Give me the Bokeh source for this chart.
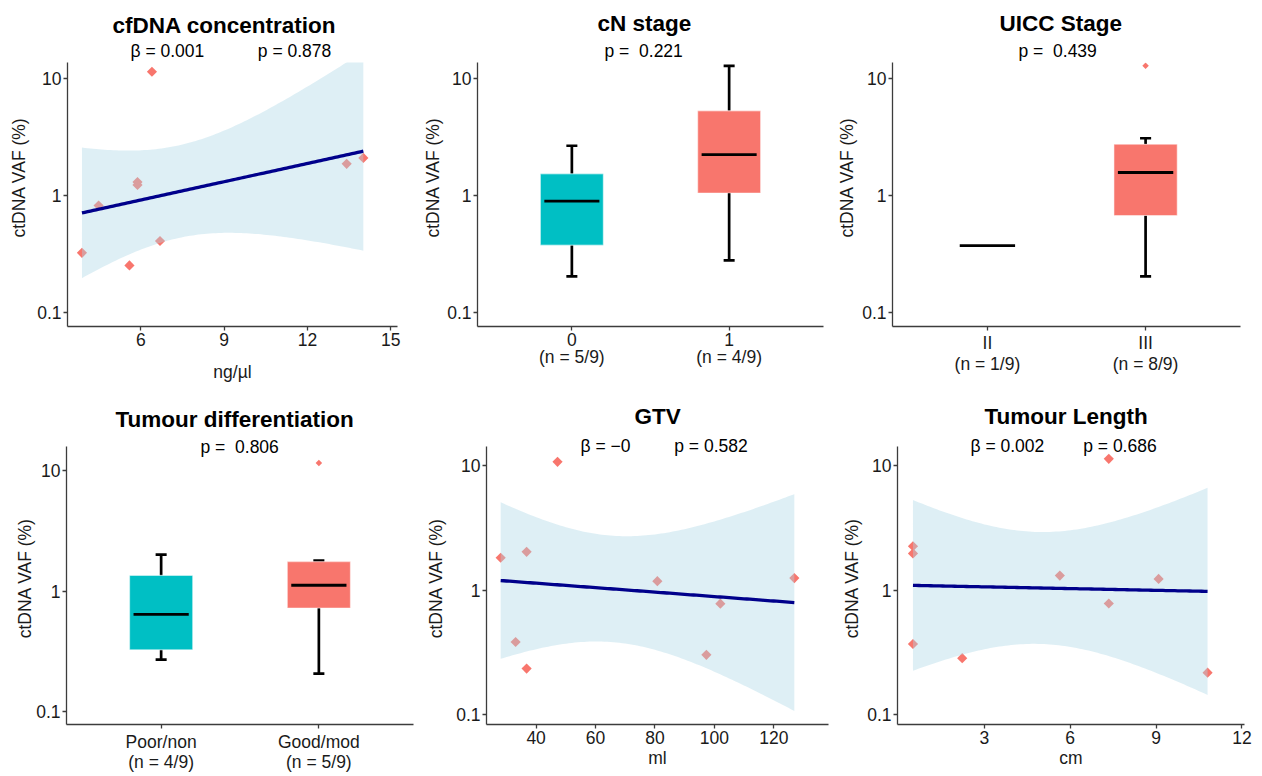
import numpy as np
from bokeh.plotting import figure
from bokeh.layouts import row, column
from bokeh.models import Range1d, FixedTicker, NumeralTickFormatter, Title, LinearAxis
from bokeh.embed import file_html
from bokeh.resources import INLINE

FONT = "Liberation Sans"
T_975_DF7 = 2.3646  # t quantile for a 95% CI with n - 2 = 7 degrees of freedom
NB = "\u00a0"

# ---------------- data ----------------
cfdna_x = [3.88, 4.48, 5.59, 5.88, 5.88, 6.40, 6.69, 13.41, 14.01]
cfdna_vaf = [0.325, 0.82, 0.254, 1.30, 1.23, 11.3, 0.41, 1.86, 2.09]

gtv_x = [28.07, 36.8, 47.2, 33.1, 36.8, 80.8, 102.0, 97.3, 126.9]
gtv_vaf = [1.82, 2.03, 10.7, 0.384, 0.235, 1.18, 0.78, 0.303, 1.25]

length_x = [0.51, 0.51, 0.51, 2.23, 5.64, 7.35, 7.35, 9.09, 10.80]
length_vaf = [2.25, 1.97, 0.370, 0.285, 1.31, 11.3, 0.782, 1.23, 0.218]

# box statistics: lower whisker, q1, median, q3, upper whisker
cn_groups = ["0", "1"]
cn_n = ["(n = 5/9)", "(n = 4/9)"]
cn_stats = [[0.205, 0.378, 0.894, 1.53, 2.65], [0.28, 1.05, 2.23, 5.26, 12.7]]
cn_outliers = [[], []]

uicc_groups = ["II", "III"]
uicc_n = ["(n = 1/9)", "(n = 8/9)"]
uicc_stats = [[0.375, 0.375, 0.375, 0.375, 0.375], [0.205, 0.676, 1.57, 2.73, 3.07]]
uicc_outliers = [[], [12.7]]

diff_groups = ["Poor/non", "Good/mod"]
diff_n = ["(n = 4/9)", "(n = 5/9)"]
diff_stats = [[0.271, 0.327, 0.643, 1.35, 2.01], [0.208, 0.724, 1.12, 1.76, 1.79]]
diff_outliers = [[], [11.5]]

titles = {"cfdna": "cfDNA concentration", "cn": "cN stage", "uicc": "UICC Stage",
          "diff": "Tumour differentiation", "gtv": "GTV", "length": "Tumour Length"}
beta_texts = {"cfdna": "β = 0.001", "gtv": "β = −0", "length": "β = 0.002"}
p_texts = {"cfdna": "p = 0.878", "cn": "p = " + NB + "0.221", "uicc": "p = " + NB + "0.439",
           "diff": "p = " + NB + "0.806", "gtv": "p = 0.582", "length": "p = 0.686"}
x_titles = {"cfdna": "ng/µl", "gtv": "ml", "length": "cm"}
y_title = "ctDNA VAF (%)"

GROUP_COLORS = ["#00BFC4", "#F8766D"]
POINT_COLOR = "#F8766D"

# ---------------- geometry (page pixels) ----------------
COLS = {0: [(0, 420), (420, 410), (830, 430)],
        1: [(0, 420), (420, 415), (835, 425)]}
ROWS = [(0, 387), (387, 387)]

geo = {
    "cfdna": dict(col=0, row=0, L=66.7, R=396.7, T=62, B=326, xr=(3.36, 15.24), ylog=(-1.115, 1.132),
                  ylab_st=5, ylab_pad=7, main_off=45, sub_off=63, gap=11, sub_so=4, main_so=-2),
    "cn": dict(col=1, row=0, L=475.7, R=823.3, T=62, B=326, xr=(0.4, 2.6), ylog=(-1.115, 1.132),
               ylab_st=1, ylab_pad=7, main_off=120, sub_off=127, gap=0, sub_so=4, main_so=2),
    "uicc": dict(col=2, row=0, L=892.3, R=1240, T=62, B=326, xr=(0.4, 2.6), ylog=(-1.115, 1.132),
                 ylab_st=2, ylab_pad=7, main_off=107, sub_off=126, gap=0, sub_so=4, main_so=2),
    "diff": dict(col=0, row=1, L=65.7, R=413.3, T=445, B=727, xr=(0.4, 2.6), ylog=(-1.104, 1.198),
                 ylab_st=-2, ylab_pad=3, main_off=49, sub_off=134, gap=0, sub_so=-20, main_so=25),
    "gtv": dict(col=1, row=1, L=485.7, R=828.3, T=442.7, B=726, xr=(23.3, 138.4), ylog=(-1.077, 1.152),
                ylab_st=7, ylab_pad=3, main_off=148, sub_off=94, gap=9, sub_so=-18, main_so=28),
    "length": dict(col=2, row=1, L=897.3, R=1244.3, T=442.7, B=726, xr=(-0.03, 12.09), ylog=(-1.077, 1.152),
                   ylab_st=2, ylab_pad=3, main_off=87, sub_off=73, gap=8, sub_so=-18, main_so=28),
}


def style_axis(ax):
    ax.axis_line_color = "#3c3c3c"
    ax.axis_line_width = 1.3
    ax.major_tick_line_color = "#3c3c3c"
    ax.major_tick_line_width = 1.3
    ax.major_tick_out = 4
    ax.major_tick_in = 0
    ax.minor_tick_line_color = None
    ax.major_label_text_font = FONT
    ax.major_label_text_font_size = "17.5px"
    ax.major_label_text_color = "#1a1a1a"
    ax.axis_label_text_font = FONT
    ax.axis_label_text_font_size = "17.5px"
    ax.axis_label_text_font_style = "normal"
    ax.axis_label_text_color = "#1a1a1a"
    ax.major_label_standoff = 2


def make_fig(key):
    g = geo[key]
    cx, w = COLS[g["row"]][g["col"]]
    ry, h = ROWS[g["row"]]
    left = int(round(g["L"] - cx))
    right = w - int(round(g["R"] - cx))
    top = int(round(g["T"] - ry))
    bottom = h - int(round(g["B"] - ry))
    p = figure(width=w, height=h, x_range=Range1d(*g["xr"]),
               y_range=Range1d(10 ** g["ylog"][0], 10 ** g["ylog"][1]),
               y_axis_type="log", output_backend="svg", toolbar_location=None,
               min_border_left=left, min_border_right=right,
               min_border_top=top, min_border_bottom=bottom, title=None)
    p.xgrid.visible = False
    p.ygrid.visible = False
    p.outline_line_color = None
    p.background_fill_color = "white"
    for ax in p.axis:
        style_axis(ax)
    p.yaxis.ticker = FixedTicker(ticks=[0.1, 1, 10])
    p.yaxis.formatter = NumeralTickFormatter(format="0.[0]")
    # leading no-break spaces lift the rotated label above the frame centre, as in the original
    p.yaxis.axis_label = NB * g["ylab_pad"] + y_title
    p.yaxis.axis_label_standoff = g["ylab_st"]

    # titles: the sub-title line first (closest to the frame), then the main title
    sub = p_texts[key]
    if key in beta_texts:
        sub = beta_texts[key] + NB * g["gap"] + p_texts[key]
    p.add_layout(Title(text=sub, align="left", offset=g["sub_off"], standoff=g["sub_so"],
                       text_font=FONT, text_font_size="17.5px", text_font_style="normal",
                       text_color="black"), "above")
    p.add_layout(Title(text=titles[key], align="left", offset=g["main_off"], standoff=g["main_so"],
                       text_font=FONT, text_font_size="22.5px", text_font_style="bold",
                       text_color="black"), "above")
    return p


def lm_band(x, y):
    x = np.asarray(x, float)
    ly = np.log10(np.asarray(y, float))
    n = len(x)
    xb = x.mean()
    sxx = ((x - xb) ** 2).sum()
    b = ((x - xb) * (ly - ly.mean())).sum() / sxx
    a = ly.mean() - b * xb
    s = np.sqrt(((ly - (a + b * x)) ** 2).sum() / (n - 2))
    xs = np.linspace(x.min(), x.max(), 100)
    fit = a + b * xs
    half = T_975_DF7 * s * np.sqrt(1 / n + (xs - xb) ** 2 / sxx)
    return xs, 10 ** fit, 10 ** (fit - half), 10 ** (fit + half)


def scatter_panel(key, xs_data, ys_data, ticks, xlab_st):
    p = make_fig(key)
    p.scatter(xs_data, ys_data, marker="square", angle=np.pi / 4, size=7.2,
              fill_color=POINT_COLOR, line_color=None)
    xs, fit, lo, hi = lm_band(xs_data, ys_data)
    p.varea(x=xs, y1=lo, y2=hi, fill_color="#ADD8E6", fill_alpha=0.4)
    p.line(xs, fit, line_color="#00008B", line_width=3.3)
    p.xaxis.ticker = FixedTicker(ticks=ticks)
    p.xaxis.axis_label = x_titles[key]
    p.xaxis.axis_label_standoff = xlab_st
    return p


def box_panel(key, groups, ns, stats, outliers, tick_st, n_st):
    p = make_fig(key)
    for i, (st, outs) in enumerate(zip(stats, outliers)):
        xc = i + 1
        lw, q1, med, q3, uw = st
        col = GROUP_COLORS[i]
        if uw > q3:
            p.segment(x0=[xc], y0=[q3], x1=[xc], y1=[uw], line_color="black", line_width=2.7)
        if lw < q1:
            p.segment(x0=[xc], y0=[lw], x1=[xc], y1=[q1], line_color="black", line_width=2.7)
        if q3 > q1:
            p.segment(x0=[xc - 0.035, xc - 0.035], y0=[uw, lw], x1=[xc + 0.035, xc + 0.035],
                      y1=[uw, lw], line_color="black", line_width=2.7)
            p.quad(left=[xc - 0.2], right=[xc + 0.2], bottom=[q1], top=[q3],
                   fill_color=col, line_color="white", line_alpha=0.45, line_width=1.2)
        p.segment(x0=[xc - 0.175], y0=[med], x1=[xc + 0.175], y1=[med],
                  line_color="black", line_width=2.8)
        if outs:
            p.scatter([xc] * len(outs), outs, marker="square", angle=np.pi / 4, size=4.6,
                      fill_color=col, line_color=None)
    p.xaxis.ticker = FixedTicker(ticks=[1, 2])
    p.xaxis.major_label_overrides = {i + 1: grp for i, grp in enumerate(groups)}
    p.xaxis.major_label_standoff = tick_st
    # second line of the category labels: the group sizes
    ax2 = LinearAxis(ticker=FixedTicker(ticks=[1, 2]),
                     major_label_overrides={i + 1: n for i, n in enumerate(ns)})
    style_axis(ax2)
    ax2.axis_line_color = None
    ax2.major_tick_line_color = None
    ax2.major_tick_out = 0
    ax2.major_label_standoff = n_st
    p.add_layout(ax2, "below")
    return p


p1 = scatter_panel("cfdna", cfdna_x, cfdna_vaf, [6, 9, 12, 15], 13)
p2 = box_panel("cn", cn_groups, cn_n, cn_stats, cn_outliers, 2, -2)
p3 = box_panel("uicc", uicc_groups, uicc_n, uicc_stats, uicc_outliers, 2, -2)
p4 = box_panel("diff", diff_groups, diff_n, diff_stats, diff_outliers, 3, -3)
p5 = scatter_panel("gtv", gtv_x, gtv_vaf, [40, 60, 80, 100, 120], 1)
p6 = scatter_panel("length", length_x, length_vaf, [3, 6, 9, 12], 1)

layout = column(row(p1, p2, p3), row(p4, p5, p6))
open("out.html", "w").write(file_html(layout, INLINE))
